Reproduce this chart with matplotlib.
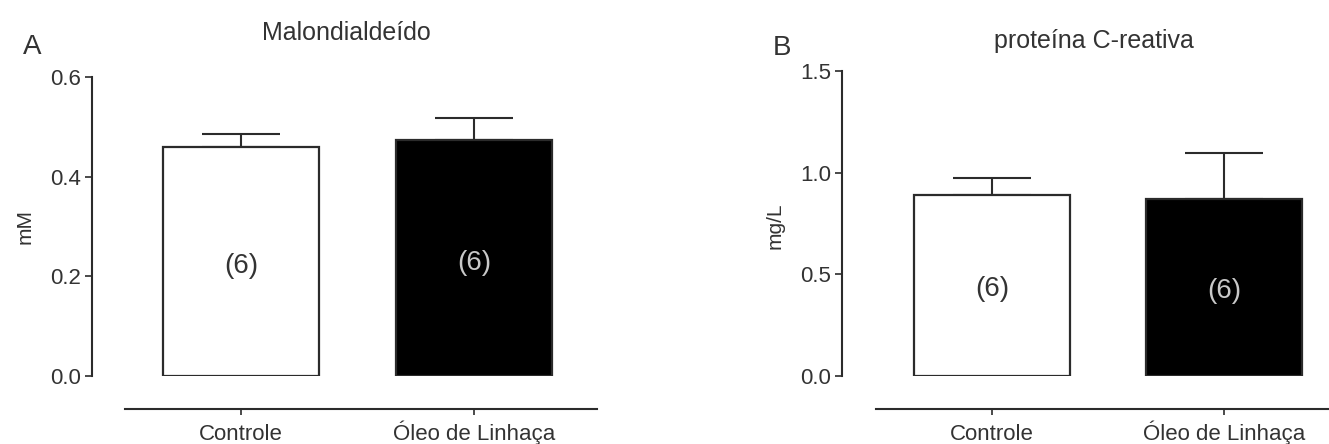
import matplotlib
matplotlib.use("Agg")
import matplotlib.pyplot as plt

plt.rcParams['font.family'] = ['Liberation Sans', 'DejaVu Sans']

groups = ["Controle", "Óleo de Linhaça"]
n_labels = ["(6)", "(6)"]

# panel A - malondialdeido (mM)
mda_mean = [0.46, 0.474]
mda_sem = [0.026, 0.043]

# panel B - proteina C-reativa (mg/L)
pcr_mean = [0.89, 0.87]
pcr_sem = [0.085, 0.225]

W, H = 1329, 444
fig = plt.figure(figsize=(W / 100, H / 100), dpi=100)

txt = '#333333'
line = '#2b2b2b'


def px_axes(left, right, top, bottom):
    return fig.add_axes([left / W, (H - bottom) / H, (right - left) / W, (bottom - top) / H])


def draw_panel(ax, means, sems, ymax, yticks, x0px, pxunit, left, right):
    x = [0, 1]
    ax.bar(x, means, width=0.67, color=['white', 'black'], edgecolor=line, linewidth=1.6, zorder=2)
    ax.errorbar(x, means, yerr=[[0, 0], sems], fmt='none', ecolor=line, elinewidth=1.5,
                capsize=28, capthick=1.5, zorder=1)
    for i in range(2):
        ax.text(x[i], means[i] * 0.48, n_labels[i], ha='center', va='center', fontsize=20,
                color=txt if i == 0 else '#c8c8c8', zorder=3)
    ax.set_ylim(0, ymax)
    ax.set_xlim((left - x0px) / pxunit, (right - x0px) / pxunit)
    ax.set_yticks(yticks)
    ax.set_yticklabels(['%.1f' % t for t in yticks])
    for s in ['top', 'right']:
        ax.spines[s].set_visible(False)
    ax.spines['left'].set_linewidth(1.5)
    ax.spines['left'].set_color(line)
    ax.spines['bottom'].set_position(('outward', 24))
    ax.spines['bottom'].set_bounds(-0.5, 1.53)
    ax.spines['bottom'].set_linewidth(1.5)
    ax.spines['bottom'].set_color(line)
    ax.tick_params(axis='y', direction='out', length=5, width=1.2, color=line, pad=3,
                   labelsize=16, labelcolor=txt)
    ax.set_xticks(x)
    ax.tick_params(axis='x', direction='out', length=4, width=1.2, color=line, pad=4,
                   labelsize=16, labelcolor=txt)
    ax.set_xticklabels([])
    ax.patch.set_alpha(0)
    # category labels on a common baseline (the accent on Ó would push it down otherwise)
    for i in range(2):
        ax.annotate(groups[i], xy=(x[i], 0), xycoords=('data', 'axes fraction'),
                    xytext=(0, -64 * 0.72), textcoords='offset points',
                    ha='center', va='baseline', fontsize=16, color=txt, annotation_clip=False)


axA = px_axes(92, 598, 77, 376)
draw_panel(axA, mda_mean, mda_sem, 0.6, [0.0, 0.2, 0.4, 0.6], 241, 233, 92, 598)

axB = px_axes(842, 1348, 71, 376)
draw_panel(axB, pcr_mean, pcr_sem, 1.5, [0.0, 0.5, 1.0, 1.5], 992, 232, 842, 1348)

# titles, panel letters, y labels
fig.text(346 / W, (H - 40) / H, "Malondialdeído", ha='center', va='baseline', fontsize=18, color=txt)
fig.text(1094 / W, (H - 48) / H, "proteína C-reativa", ha='center', va='baseline', fontsize=18, color=txt)
fig.text(23 / W, (H - 54) / H, "A", ha='left', va='baseline', fontsize=20, color=txt)
fig.text(773 / W, (H - 55) / H, "B", ha='left', va='baseline', fontsize=20, color=txt)
fig.text(25 / W, (H - 226) / H, "mM", rotation=90, ha='center', va='center', fontsize=15, color=txt)
fig.text(775 / W, (H - 226) / H, "mg/L", rotation=90, ha='center', va='center', fontsize=15, color=txt)

fig.savefig("out.png", dpi=100, facecolor='white')
